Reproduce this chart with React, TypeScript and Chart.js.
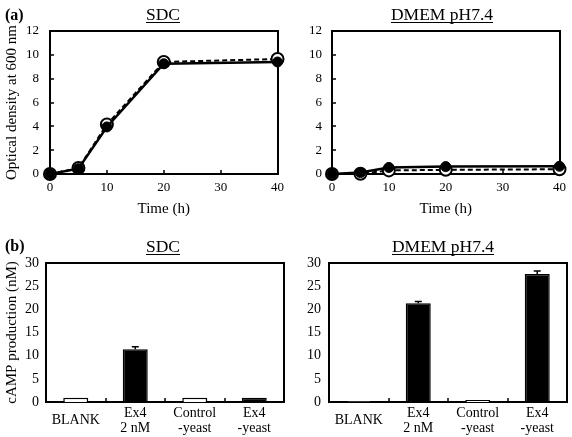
import React, { useEffect, useRef } from 'react';
import { Chart, registerables } from 'chart.js';

Chart.register(...registerables);

const FONT = "'Liberation Serif', 'Times New Roman', serif";

// ---- Growth curves (a) ----
const timeHours = [0, 5, 10, 20, 40];
const sdcFilled = [0, 0.45, 3.95, 9.25, 9.4];
const sdcOpen = [0, 0.5, 4.15, 9.4, 9.65];
const dmemFilled = [0, 0.12, 0.55, 0.62, 0.65];
const dmemOpen = [0, 0.02, 0.3, 0.35, 0.4];

// ---- cAMP production (b) ----
const barCategories = ['BLANK', ['Ex4', '2 nM'], ['Control', '-yeast'], ['Ex4', '-yeast']];
const sdcCamp = [0.9, 11.4, 0.9, 0.9];
const sdcCampErr = [0, 0.5, 0, 0];
const dmemCamp = [0.15, 21.3, 0.45, 27.6];
const dmemCampErr = [0, 0.4, 0, 0.7];
const barFills = ['#ffffff', '#000000', '#ffffff', '#000000'];

const panelTitlePlugin = {
  id: 'panelTitle',
  afterDraw(chart: any, _args: any, opts: any) {
    if (!opts || !opts.text) return;
    const ctx = chart.ctx;
    ctx.save();
    ctx.font = `${opts.size}px ${FONT}`;
    ctx.fillStyle = '#000';
    ctx.textAlign = 'center';
    ctx.textBaseline = 'middle';
    ctx.fillText(opts.text, opts.x, opts.y);
    const w = ctx.measureText(opts.text).width;
    ctx.strokeStyle = '#000';
    ctx.lineWidth = 1;
    const uy = Math.round(opts.y + opts.size * 0.42) + 0.5;
    ctx.beginPath();
    ctx.moveTo(opts.x - w / 2, uy);
    ctx.lineTo(opts.x + w / 2, uy);
    ctx.stroke();
    ctx.restore();
  },
};

const framePlugin = {
  id: 'frame',
  beforeDatasetsDraw(chart: any, _args: any, opts: any) {
    const { ctx, chartArea } = chart;
    const xs = chart.scales.x;
    const ys = chart.scales.y;
    const L = Math.round(chartArea.left);
    const R = Math.round(chartArea.right);
    const T = Math.round(chartArea.top);
    const B = Math.round(chartArea.bottom);
    const len = opts.tickLen || 4;
    ctx.save();
    ctx.strokeStyle = '#000';
    ctx.lineWidth = 2;
    ctx.strokeRect(L, T, R - L, B - T);
    ctx.lineWidth = 1.5;
    ctx.beginPath();
    if (opts.xMode === 'values') {
      xs.ticks.forEach((t: any) => {
        const px = Math.round(xs.getPixelForValue(t.value));
        if (px <= L + 1 || px >= R - 1) return;
        ctx.moveTo(px, B);
        ctx.lineTo(px, B - len);
      });
    } else if (opts.xMode === 'between') {
      for (let i = 1; i < xs.ticks.length; i++) {
        const px = Math.round((xs.getPixelForTick(i - 1) + xs.getPixelForTick(i)) / 2);
        ctx.moveTo(px, B);
        ctx.lineTo(px, B - len);
      }
    }
    if (opts.yTicks) {
      ys.ticks.forEach((t: any) => {
        const py = Math.round(ys.getPixelForValue(t.value));
        if (py <= T + 1 || py >= B - 1) return;
        ctx.moveTo(L, py);
        ctx.lineTo(L + len, py);
      });
    }
    ctx.stroke();
    ctx.restore();
  },
};

const errorBarPlugin = {
  id: 'errorBars',
  afterDatasetsDraw(chart: any, _args: any, opts: any) {
    if (!opts || !opts.errors) return;
    const ctx = chart.ctx;
    const ys = chart.scales.y;
    const meta = chart.getDatasetMeta(0);
    const values = chart.data.datasets[0].data;
    ctx.save();
    ctx.strokeStyle = '#000';
    ctx.lineWidth = 1.5;
    meta.data.forEach((bar: any, i: number) => {
      const e = opts.errors[i];
      if (!e) return;
      const yTop = ys.getPixelForValue(values[i] + e);
      ctx.beginPath();
      ctx.moveTo(bar.x, bar.y);
      ctx.lineTo(bar.x, yTop);
      ctx.moveTo(bar.x - 3.5, yTop);
      ctx.lineTo(bar.x + 3.5, yTop);
      ctx.stroke();
    });
    ctx.restore();
  },
};

function lineConfig(filled: number[], open: number[], title: any, yTitle: string | null, yWidth: number, padRight: number, yPad: number) {
  const filledPts = timeHours.map((t, i) => ({ x: t, y: filled[i] }));
  const openPts = timeHours.map((t, i) => ({ x: t, y: open[i] }));
  return {
    type: 'line',
    data: {
      datasets: [
        {
          data: filledPts,
          borderColor: '#000',
          borderWidth: 2.5,
          pointRadius: 5,
          pointBackgroundColor: '#000',
          pointBorderColor: '#000',
          pointBorderWidth: 1,
          order: 0,
          clip: false,
        },
        {
          data: openPts,
          borderColor: '#000',
          borderWidth: 2,
          borderDash: [5, 3],
          pointRadius: 6,
          pointBackgroundColor: '#fff',
          pointBorderColor: '#000',
          pointBorderWidth: 2,
          order: 1,
          clip: false,
        },
      ],
    },
    options: {
      responsive: false,
      animation: false,
      layout: { padding: { top: 31, right: padRight, left: 0, bottom: 0 } },
      plugins: {
        legend: { display: false },
        tooltip: { enabled: false },
        panelTitle: title,
        frame: { xMode: 'values', yTicks: true, tickLen: 4 },
      },
      scales: {
        x: {
          type: 'linear',
          min: 0,
          max: 40,
          grid: { display: false, drawTicks: false },
          border: { display: false },
          ticks: { stepSize: 10, color: '#000', padding: 6, font: { family: FONT, size: 13 }, maxRotation: 0 },
          title: { display: true, text: 'Time (h)', color: '#000', font: { family: FONT, size: 15 }, padding: { top: 0, bottom: 0 } },
          afterFit: (s: any) => { s.height = 44; },
        },
        y: {
          min: 0,
          max: 12,
          grid: { display: false, drawTicks: false },
          border: { display: false },
          ticks: { stepSize: 2, color: '#000', padding: yPad, font: { family: FONT, size: 13 } },
          title: yTitle
            ? { display: true, text: yTitle, color: '#000', font: { family: FONT, size: 15 }, padding: { top: 3, bottom: 0 } }
            : { display: false },
          afterFit: (s: any) => { s.width = yWidth; },
        },
      },
    },
    plugins: [panelTitlePlugin, framePlugin],
  };
}

function barConfig(values: number[], errors: number[], title: any, yTitle: string | null, yWidth: number, padRight: number, yPad: number) {
  return {
    type: 'bar',
    data: {
      labels: barCategories,
      datasets: [
        {
          data: values,
          backgroundColor: barFills,
          borderColor: '#000',
          borderWidth: 1.5,
          barPercentage: 0.42,
          categoryPercentage: 1,
        },
      ],
    },
    options: {
      responsive: false,
      animation: false,
      layout: { padding: { top: 43, right: padRight, left: 0, bottom: 0 } },
      plugins: {
        legend: { display: false },
        tooltip: { enabled: false },
        panelTitle: title,
        frame: { xMode: 'between', yTicks: false, tickLen: 4 },
        errorBars: { errors },
      },
      scales: {
        x: {
          grid: { display: false, drawTicks: false },
          border: { display: false },
          ticks: { color: '#000', padding: 11, crossAlign: 'center', maxRotation: 0, autoSkip: false, font: { family: FONT, size: 14, lineHeight: 1.07 } },
          afterFit: (s: any) => { s.height = 35; },
        },
        y: {
          min: 0,
          max: 30,
          grid: { display: false, drawTicks: false },
          border: { display: false },
          ticks: { stepSize: 5, color: '#000', padding: yPad, font: { family: FONT, size: 14 } },
          title: yTitle
            ? { display: true, text: yTitle, color: '#000', font: { family: FONT, size: 15 }, padding: { top: 3, bottom: 0 } }
            : { display: false },
          afterFit: (s: any) => { s.width = yWidth; },
        },
      },
    },
    plugins: [panelTitlePlugin, framePlugin, errorBarPlugin],
  };
}

function Panel({ config, left, top, width, height }: any) {
  const ref = useRef<HTMLCanvasElement>(null);
  useEffect(() => {
    const chart = new Chart(ref.current as HTMLCanvasElement, config);
    return () => chart.destroy();
  }, []);
  return (
    <div style={{ position: 'absolute', left, top, width, height }}>
      <canvas ref={ref} width={width} height={height} style={{ display: 'block' }} />
    </div>
  );
}

const labelStyle: React.CSSProperties = {
  position: 'absolute',
  fontFamily: FONT,
  fontWeight: 'bold',
  fontSize: 16,
  lineHeight: '16px',
  color: '#000',
};

export default function App() {
  return (
    <div style={{ position: 'absolute', left: 0, top: 0, width: 572, height: 437, background: '#fff', overflow: 'hidden' }}>
      <Panel
        left={0}
        top={0}
        width={290}
        height={218}
        config={lineConfig(sdcFilled, sdcOpen, { text: 'SDC', x: 163, y: 15, size: 17.5 }, 'Optical density at 600 nm', 50, 7, 11)}
      />
      <Panel
        left={290}
        top={0}
        width={282}
        height={218}
        config={lineConfig(dmemFilled, dmemOpen, { text: 'DMEM pH7.4', x: 152, y: 15, size: 17.5 }, null, 42, 9, 10)}
      />
      <Panel
        left={0}
        top={220}
        width={290}
        height={217}
        config={barConfig(sdcCamp, sdcCampErr, { text: 'SDC', x: 163, y: 27, size: 17.5 }, 'cAMP production (nM)', 46, 6, 7)}
      />
      <Panel
        left={290}
        top={220}
        width={282}
        height={217}
        config={barConfig(dmemCamp, dmemCampErr, { text: 'DMEM pH7.4', x: 153, y: 27, size: 17.5 }, null, 39, 5, 8)}
      />
      <div style={{ ...labelStyle, left: 5, top: 7 }}>(a)</div>
      <div style={{ ...labelStyle, left: 5, top: 238 }}>(b)</div>
    </div>
  );
}
